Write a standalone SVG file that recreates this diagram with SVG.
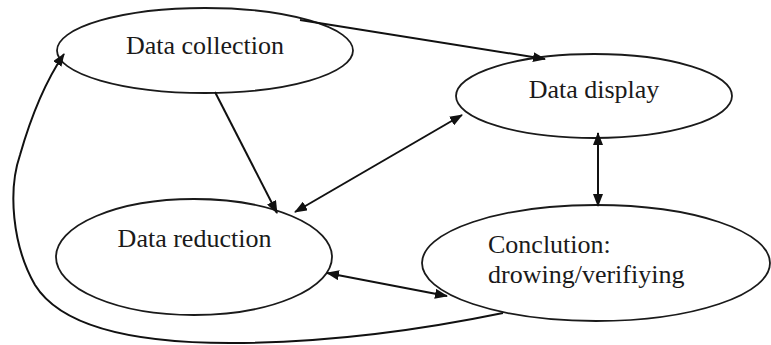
<svg xmlns="http://www.w3.org/2000/svg" width="771" height="345" viewBox="0 0 771 345">
<style>
.node ellipse{fill:#fff;stroke:#1a1a1a;stroke-width:1.8}
.node text{font-family:"Liberation Serif","Times New Roman",serif;font-size:26px;fill:#1a1a1a}
.edge{fill:none;stroke:#111;stroke-width:2}
</style>
<defs>
<marker id="ah" markerUnits="userSpaceOnUse" markerWidth="13" markerHeight="10" viewBox="0 0 13 10" refX="12" refY="5" orient="auto-start-reverse">
<path d="M0,0 L13,5 L0,10 z" fill="#111"/>
</marker>
</defs>
<rect width="771" height="345" fill="#fff"/>
<g id="n-collection" class="node">
<ellipse cx="205" cy="50.5" rx="148" ry="42.5"/>
<text x="205" y="54" text-anchor="middle">Data collection</text>
</g>
<g id="n-display" class="node">
<ellipse cx="594" cy="96" rx="138" ry="42"/>
<text x="594" y="98" text-anchor="middle">Data display</text>
</g>
<g id="n-reduction" class="node">
<ellipse cx="194" cy="257" rx="138" ry="58"/>
<text x="194.5" y="247" text-anchor="middle">Data reduction</text>
</g>
<g id="n-conclusion" class="node">
<ellipse cx="596" cy="263" rx="174" ry="58"/>
<text x="488" y="253">Conclution:</text>
<text x="488" y="283">drowing/verifiying</text>
</g>
<g id="connectors">
<path class="edge" d="M300,20 L545,59" marker-end="url(#ah)"/>
<path class="edge" d="M215,92 L277,213" marker-end="url(#ah)"/>
<path class="edge" d="M295,212 L462,115" marker-start="url(#ah)" marker-end="url(#ah)"/>
<path class="edge" d="M598,133 L598,206" marker-start="url(#ah)" marker-end="url(#ah)"/>
<path class="edge" d="M327,273 L447,296" marker-start="url(#ah)" marker-end="url(#ah)"/>
<path class="edge" d="M503,313 C440,326 340,343 230,343 C130,343 60,325 35,285 C12,245 8,190 20,155 C30,120 45,82 64,54" marker-end="url(#ah)"/>
</g>
</svg>
